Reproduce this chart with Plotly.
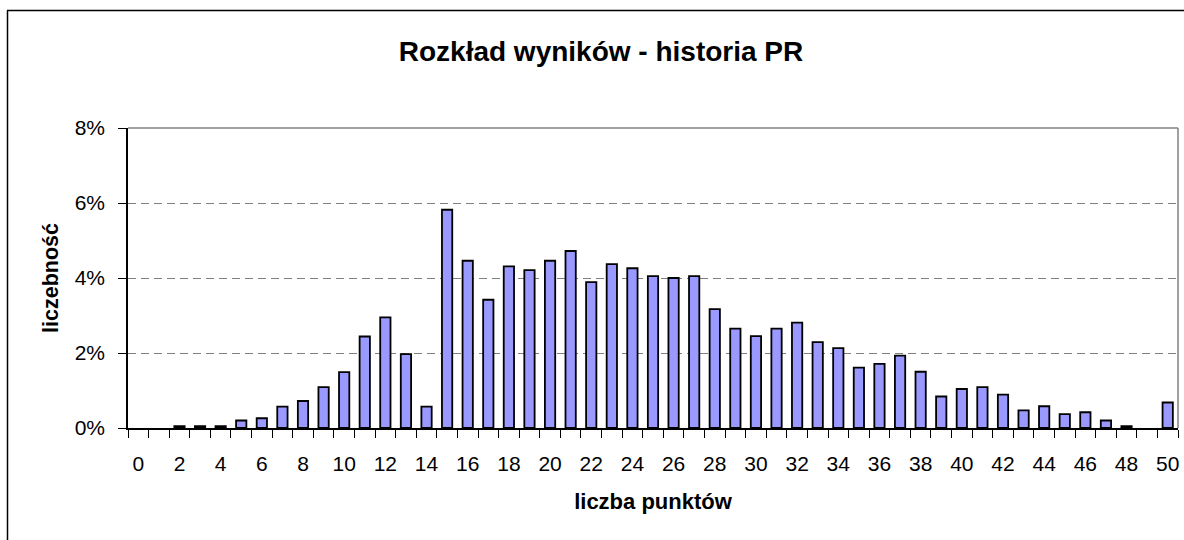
import plotly.graph_objects as go

# Score distribution (share of results, in percent) for 0..50 points
punkty = list(range(0, 51))
liczebnosc = [
    0.0, 0.0, 0.05, 0.05, 0.05, 0.20, 0.26, 0.57, 0.72, 1.09,
    1.49, 2.44, 2.95, 1.97, 0.57, 5.82, 4.46, 3.42, 4.31, 4.21,
    4.46, 4.72, 3.89, 4.37, 4.26, 4.05, 4.00, 4.05, 3.17, 2.65,
    2.45, 2.65, 2.81, 2.29, 2.13, 1.61, 1.71, 1.93, 1.50, 0.84,
    1.04, 1.09, 0.89, 0.47, 0.58, 0.37, 0.42, 0.20, 0.05, 0.0,
    0.68,
]
etykiety_x = list(range(0, 51, 2))
etykiety_y = [0, 2, 4, 6, 8]

W, H = 1184, 540
ML, MR, MT, MB = 128, 6, 128, 112
PW, PH = W - ML - MR, H - MT - MB

FONT = "Liberation Sans, Arial, sans-serif"


def px_x(p):
    return (p - ML) / PW


def px_y(p):
    return (H - MB - p) / PH


# empty categories get no outline so nothing is drawn for them
obrys = [1.8 if v > 0 else 0 for v in liczebnosc]

fig = go.Figure(
    go.Bar(
        x=punkty,
        y=liczebnosc,
        width=0.5,
        marker=dict(color="#9999FF", line=dict(color="#000000", width=obrys)),
        hoverinfo="x+y",
    )
)

fig.update_layout(
    width=W,
    height=H,
    margin=dict(l=ML, r=MR, t=MT, b=MB),
    paper_bgcolor="white",
    plot_bgcolor="white",
    showlegend=False,
    font=dict(family=FONT, color="#000000", size=20),
    title=dict(
        text="<b>Rozkład wyników - historia PR</b>",
        x=601 / W,
        xanchor="center",
        y=1 - 51 / H,
        yanchor="middle",
        font=dict(size=28, family=FONT),
    ),
)

fig.update_xaxes(
    range=[-0.5, 50.5],
    tickmode="array",
    tickvals=etykiety_x,
    ticktext=[str(v) for v in etykiety_x],
    ticks="",
    ticklen=0,
    ticklabelstandoff=16,
    tickfont=dict(size=21),
    minor=dict(
        tickmode="linear",
        tick0=0.5,
        dtick=1,
        ticks="outside",
        ticklen=8,
        tickcolor="#000000",
        tickwidth=1.3,
        showgrid=False,
    ),
    showgrid=False,
    zeroline=False,
    showline=True,
    linecolor="#000000",
    linewidth=1.5,
    title=dict(text="<b>liczba punktów</b>", font=dict(size=22), standoff=20),
    fixedrange=True,
)

fig.update_yaxes(
    range=[0, 8],
    tickmode="array",
    tickvals=etykiety_y,
    ticktext=[f"{v}%" for v in etykiety_y],
    ticks="outside",
    ticklen=8,
    tickcolor="#000000",
    tickwidth=1.3,
    ticklabelstandoff=9,
    tickfont=dict(size=21),
    showgrid=True,
    gridcolor="#808080",
    gridwidth=1,
    griddash="8px,5px",
    zeroline=False,
    showline=True,
    linecolor="#000000",
    linewidth=1.5,
    title=dict(text="<b>liczebność</b>", font=dict(size=21.5), standoff=10),
    fixedrange=True,
)

# Plot-area frame on the top and right edges
fig.add_shape(type="line", xref="paper", yref="paper", x0=0, x1=1, y0=1, y1=1,
              line=dict(color="#808080", width=1.5))
fig.add_shape(type="line", xref="paper", yref="paper", x0=1, x1=1, y0=0, y1=1,
              line=dict(color="#808080", width=1.5))

# Outer chart border (top and left)
fig.add_shape(type="line", xref="paper", yref="paper",
              x0=px_x(7), x1=px_x(W + 5), y0=px_y(10.5), y1=px_y(10.5),
              line=dict(color="#000000", width=1.5))
fig.add_shape(type="line", xref="paper", yref="paper",
              x0=px_x(7.5), x1=px_x(7.5), y0=px_y(10.5), y1=px_y(H + 5),
              line=dict(color="#000000", width=1.5))

fig.write_html("out.html")
